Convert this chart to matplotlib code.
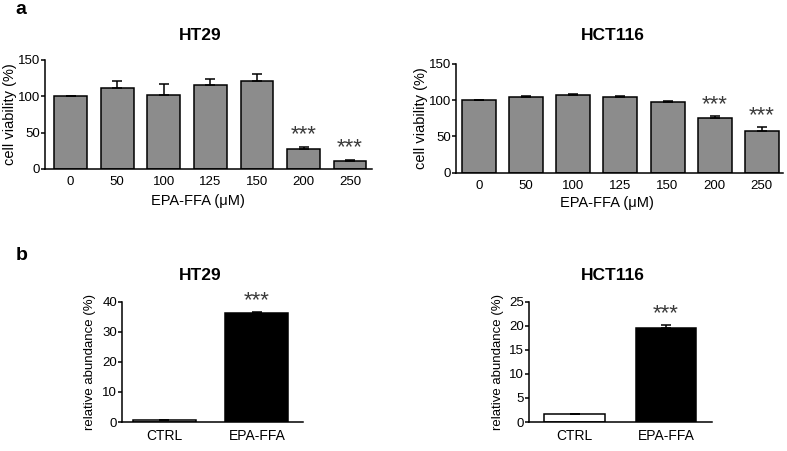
import numpy as np
import matplotlib
matplotlib.use("Agg")
import matplotlib.pyplot as plt

plt.rcParams['font.family'] = ['Liberation Sans', 'DejaVu Sans']

# panel a: cell viability
doses = ["0", "50", "100", "125", "150", "200", "250"]
ht29_viab = [100, 111, 102, 115.5, 121, 27.5, 11.5]
ht29_viab_err = [0, 10, 14.5, 8, 10, 3, 1.3]
hct_viab = [100, 103.7, 107, 104.7, 97.4, 75.4, 58]
hct_viab_err = [0, 2, 2, 1.3, 1.3, 2.2, 4.5]
viab_signif = ["", "", "", "", "", "***", "***"]

# panel b: relative abundance
groups = ["CTRL", "EPA-FFA"]
ht29_abund = [0.6, 36.3]
ht29_abund_err = [0.1, 0.15]
hct_abund = [1.6, 19.6]
hct_abund_err = [0.05, 0.5]
abund_signif = ["", "***"]


def style_axes(ax, xsize):
	for side in ["top", "right"]:
		ax.spines[side].set_visible(False)
	for side in ["left", "bottom"]:
		ax.spines[side].set_linewidth(1.1)
	ax.tick_params(axis='y', direction='out', length=3, width=1.1, labelsize=9.5, pad=0.5)
	ax.tick_params(axis='x', length=0, labelsize=xsize, pad=5)


def bar_panel(ax, labels, values, errs, colors, stars, ymax, yticks, width, xsize):
	x = np.arange(len(labels))
	ax.bar(x, values, width=width, color=colors, edgecolor='black', linewidth=1.1, zorder=2)
	ax.errorbar(x, values, yerr=[np.zeros(len(errs)), errs], fmt='none',
				ecolor='black', elinewidth=1.1, capsize=3.5, capthick=1.1, zorder=3)
	for xi, v, e, s in zip(x, values, errs, stars):
		if s:
			ax.annotate(s, (xi, v + e), xytext=(0, 1), textcoords='offset points',
						ha='center', va='bottom', fontsize=16, color='#3a3a3a')
	ax.set_xticks(x)
	ax.set_xticklabels(labels)
	ax.set_ylim(0, ymax)
	ax.set_yticks(yticks)
	style_axes(ax, xsize)


fig = plt.figure(figsize=(7.87, 4.51), dpi=100)

ax1 = fig.add_axes([0.0572, 0.6253, 0.4155, 0.2417])
bar_panel(ax1, doses, ht29_viab, ht29_viab_err, '#8c8c8c', viab_signif, 150, [0, 50, 100, 150], 0.7, 9.5)
ax1.set_xlim(-0.55, 6.47)
ax1.set_ylabel("cell viability (%)", fontsize=10.5)
ax1.yaxis.set_label_coords(-0.086, 0.5)
ax1.set_xlabel("EPA-FFA (\u03bcM)", fontsize=10.5)
ax1.xaxis.set_label_coords(0.468, -0.225)

ax2 = fig.add_axes([0.5794, 0.617, 0.4155, 0.2417])
bar_panel(ax2, doses, hct_viab, hct_viab_err, '#8c8c8c', viab_signif, 150, [0, 50, 100, 150], 0.72, 9.5)
ax2.set_xlim(-0.49, 6.45)
ax2.set_ylabel("cell viability (%)", fontsize=10.5)
ax2.yaxis.set_label_coords(-0.086, 0.5)
ax2.set_xlabel("EPA-FFA (\u03bcM)", fontsize=10.5)
ax2.xaxis.set_label_coords(0.462, -0.21)

ax3 = fig.add_axes([0.155, 0.0643, 0.23, 0.2667])
bar_panel(ax3, groups, ht29_abund, ht29_abund_err, ['white', 'black'], abund_signif, 40, [0, 10, 20, 30, 40], 0.68, 10)
ax3.set_xlim(-0.46, 1.5)
ax3.set_ylabel("relative abundance (%)", fontsize=9.5)
ax3.yaxis.set_label_coords(-0.145, 0.5)

ax4 = fig.add_axes([0.672, 0.0643, 0.2325, 0.2667])
bar_panel(ax4, groups, hct_abund, hct_abund_err, ['white', 'black'], abund_signif, 25, [0, 5, 10, 15, 20, 25], 0.66, 10)
ax4.set_xlim(-0.5, 1.5)
ax4.set_ylabel("relative abundance (%)", fontsize=9.5)
ax4.yaxis.set_label_coords(-0.138, 0.5)

# panel titles sit slightly left of the axes centres
for cx, cy, name in [(200, 35, "HT29"), (613, 35, "HCT116"), (200, 276, "HT29"), (613, 276, "HCT116")]:
	fig.text(cx / 787, 1 - cy / 451, name, fontsize=12.5, fontweight='bold', ha='center', va='center')

fig.text(21 / 787, 1 - 10 / 451, "a", fontsize=14, fontweight='bold', ha='center', va='center')
fig.text(22 / 787, 1 - 255 / 451, "b", fontsize=14, fontweight='bold', ha='center', va='center')

fig.savefig("out.png", dpi=100)
